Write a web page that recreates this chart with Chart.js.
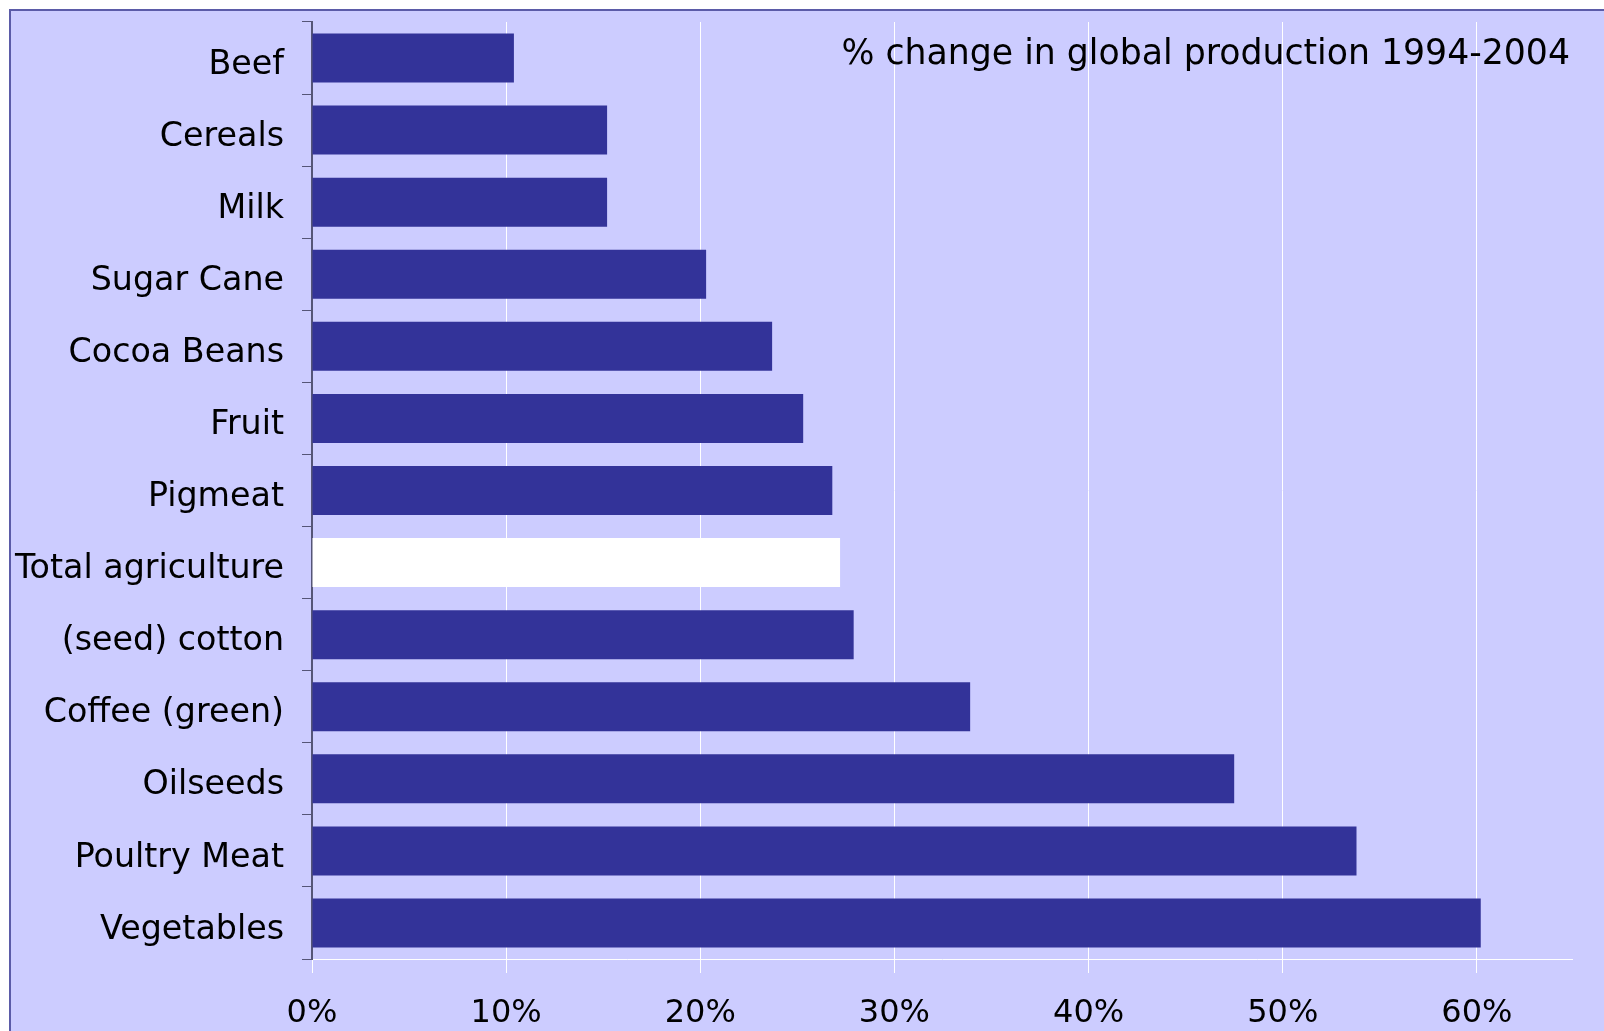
<!DOCTYPE html>
<html>
<head>
<meta charset="utf-8">
<script src="https://cdn.jsdelivr.net/npm/chart.js@4"></script>
<style>
  body { margin: 0; background: #fff; }
  #frame {
    position: absolute; left: 9px; top: 9px;
    width: 1595px; height: 1022px;
    background: #ccccff;
    border-left: 2px solid #5b5ba8;
    border-top: 2px solid #5b5ba8;
  }
  #frame canvas { display: block; }
</style>
</head>
<body>
<div id="frame"><canvas id="prodChart" width="1593" height="1020"></canvas></div>
<script>
const categories = ['Beef', 'Cereals', 'Milk', 'Sugar Cane', 'Cocoa Beans', 'Fruit', 'Pigmeat',
    'Total agriculture', '(seed) cotton', 'Coffee (green)', 'Oilseeds', 'Poultry Meat', 'Vegetables'];
const changeValues = [0.104, 0.152, 0.152, 0.203, 0.237, 0.253, 0.268, 0.272, 0.279, 0.339, 0.475, 0.538, 0.602];
const xTicks = [0, 0.1, 0.2, 0.3, 0.4, 0.5, 0.6];
const chartTitle = '% change in global production 1994-2004';

const FONT = 'DejaVu Sans';

const titleInside = {
    id: 'titleInside',
    afterDraw(chart) {
        const c = chart.ctx;
        const area = chart.chartArea;
        c.save();
        c.font = '34.7px "' + FONT + '"';
        c.fillStyle = '#000';
        c.textAlign = 'right';
        c.textBaseline = 'middle';
        c.fillText(chartTitle, area.right - 2, 44);
        c.restore();
    }
};

const ctx = document.getElementById('prodChart').getContext('2d');
const prodChart = new Chart(ctx, {
    type: 'bar',
    data: {
        labels: categories,
        datasets: [{
            data: changeValues,
            backgroundColor: categories.map(c => c === 'Total agriculture' ? '#ffffff' : '#333399'),
            borderWidth: 0,
            categoryPercentage: 1,
            barPercentage: 0.68
        }]
    },
    options: {
        indexAxis: 'y',
        responsive: false,
        animation: false,
        layout: { padding: { top: 11, right: 32, left: 0, bottom: 0 } },
        plugins: {
            legend: { display: false },
            tooltip: { enabled: false }
        },
        scales: {
            x: {
                min: 0,
                max: 0.649,
                afterBuildTicks: axis => { axis.ticks = xTicks.map(v => ({ value: v })); },
                afterFit: axis => { axis.height = 72; },
                ticks: {
                    color: '#000',
                    font: { family: FONT, size: 32 },
                    padding: 21,
                    callback: v => Math.round(v * 100) + '%'
                },
                grid: { color: '#ffffff', lineWidth: 1, drawTicks: true, tickLength: 14 },
                border: { color: '#ffffff', width: 1 }
            },
            y: {
                afterFit: axis => { axis.width = 301; axis.paddingTop = 0; axis.paddingBottom = 0; },
                ticks: {
                    color: '#000',
                    font: { family: FONT, size: 33.3 },
                    padding: 18,
                    labelOffset: 7
                },
                grid: { drawOnChartArea: false, drawTicks: true, tickLength: 10, color: '#555577', offset: true },
                border: { color: '#555577', width: 2 }
            }
        }
    },
    plugins: [titleInside]
});
</script>
</body>
</html>
